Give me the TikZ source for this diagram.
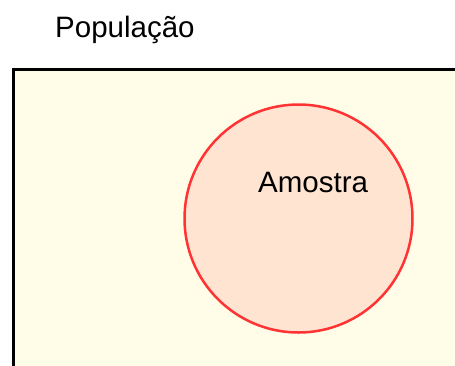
\documentclass[tikz,border=0pt]{standalone}
\usepackage{fontspec}
\setmainfont{Liberation Sans}
\definecolor{popfill}{RGB}{255,253,232}
\definecolor{amofill}{RGB}{255,228,210}
\definecolor{amoline}{RGB}{255,51,51}
\tikzset{
  lbl/.style={anchor=base west, inner sep=0pt, font=\fontsize{29.5}{35}\selectfont},
  popbox/.style={draw=black, line width=2.5pt, fill=popfill},
  amocirc/.style={circle, draw=amoline, line width=2.5pt, fill=amofill, minimum size=228pt, inner sep=0pt}
}
\begin{document}
\begin{tikzpicture}[x=1pt,y=-1pt]
\useasboundingbox (0,0) rectangle (455,365);
\clip (0,0) rectangle (455,365);
\node[popbox, minimum width=470pt, minimum height=320pt, anchor=north west, inner sep=0pt] (pop) at (12,68) {};
\node[amocirc] (amo) at (298.5,218.5) {};
\node[lbl] (poplbl) at (55,37) {População};
\node[lbl] (amolbl) at (258,192) {Amostra};
\end{tikzpicture}
\end{document}
